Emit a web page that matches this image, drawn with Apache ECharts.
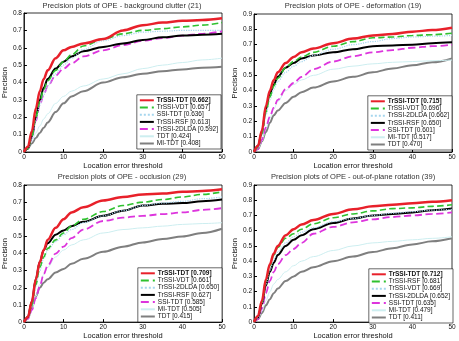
<!DOCTYPE html>
<html>
<head>
<meta charset="utf-8">
<script src="https://cdn.jsdelivr.net/npm/echarts@6/dist/echarts.min.js"></script>
<style>
  html, body { margin: 0; padding: 0; background: #fff; }
  #chart { width: 459px; height: 341px; }
</style>
</head>
<body>
<div id="chart"></div>
<script>
const thresholds = [0, 1, 2, 3, 4, 5, 6, 8, 10, 12, 15, 20, 25, 30, 35, 40, 45, 50];

// background clutter (21)
const bcTitle = 'Precision plots of OPE - background clutter (21)';
const bcNames = ['TrSSI-TDT [0.662]', 'TrSSI-VDT [0.657]', 'SSI-TDT [0.636]', 'TrSSI-RSF [0.613]', 'TrSSI-2DLDA [0.592]', 'TDT [0.424]', 'MI-TDT [0.408]'];
const bcValues = [
  [0, 0.03, 0.12, 0.25, 0.35, 0.42, 0.47, 0.54, 0.585, 0.605, 0.625, 0.65, 0.70, 0.73, 0.745, 0.755, 0.76, 0.77],
  [0, 0.02, 0.09, 0.20, 0.29, 0.36, 0.41, 0.47, 0.52, 0.56, 0.61, 0.65, 0.68, 0.70, 0.71, 0.72, 0.73, 0.745],
  [0, 0.02, 0.08, 0.18, 0.27, 0.33, 0.38, 0.45, 0.50, 0.54, 0.59, 0.64, 0.67, 0.69, 0.695, 0.70, 0.70, 0.70],
  [0, 0.02, 0.09, 0.20, 0.30, 0.37, 0.42, 0.48, 0.52, 0.55, 0.58, 0.605, 0.625, 0.645, 0.66, 0.67, 0.675, 0.68],
  [0, 0.02, 0.08, 0.18, 0.27, 0.33, 0.38, 0.44, 0.48, 0.51, 0.55, 0.585, 0.615, 0.64, 0.655, 0.67, 0.68, 0.695],
  [0, 0.02, 0.06, 0.11, 0.15, 0.19, 0.22, 0.28, 0.32, 0.35, 0.38, 0.42, 0.45, 0.48, 0.50, 0.515, 0.53, 0.54],
  [0, 0.02, 0.05, 0.08, 0.11, 0.14, 0.17, 0.23, 0.28, 0.32, 0.35, 0.40, 0.43, 0.45, 0.465, 0.475, 0.485, 0.49]
];

// deformation (19)
const dfTitle = 'Precision plots of OPE - deformation (19)';
const dfNames = ['TrSSI-TDT [0.715]', 'TrSSI-VDT [0.696]', 'TrSSI-2DLDA [0.662]', 'TrSSI-RSF [0.650]', 'SSI-TDT [0.601]', 'MI-TDT [0.517]', 'TDT [0.470]'];
const dfValues = [
  [0, 0.04, 0.14, 0.30, 0.40, 0.47, 0.52, 0.58, 0.62, 0.65, 0.675, 0.71, 0.74, 0.76, 0.77, 0.785, 0.795, 0.81],
  [0, 0.03, 0.12, 0.26, 0.36, 0.43, 0.48, 0.55, 0.59, 0.62, 0.65, 0.69, 0.72, 0.745, 0.75, 0.76, 0.765, 0.775],
  [0, 0.03, 0.11, 0.24, 0.34, 0.41, 0.46, 0.52, 0.56, 0.59, 0.63, 0.67, 0.70, 0.72, 0.74, 0.75, 0.755, 0.76],
  [0, 0.04, 0.13, 0.28, 0.38, 0.44, 0.49, 0.55, 0.58, 0.61, 0.63, 0.65, 0.67, 0.69, 0.695, 0.70, 0.71, 0.715],
  [0, 0.02, 0.08, 0.16, 0.23, 0.29, 0.34, 0.41, 0.45, 0.49, 0.54, 0.59, 0.625, 0.65, 0.665, 0.68, 0.69, 0.70],
  [0, 0.02, 0.07, 0.15, 0.22, 0.28, 0.33, 0.40, 0.44, 0.47, 0.50, 0.54, 0.56, 0.575, 0.585, 0.59, 0.595, 0.60],
  [0, 0.02, 0.07, 0.13, 0.19, 0.24, 0.27, 0.32, 0.36, 0.39, 0.42, 0.46, 0.49, 0.52, 0.545, 0.565, 0.585, 0.61]
];

// occlusion (29)
const ocTitle = 'Precision plots of OPE - occlusion (29)';
const ocNames = ['TrSSI-TDT [0.709]', 'TrSSI-VDT [0.661]', 'TrSSI-2DLDA [0.650]', 'TrSSI-RSF [0.627]', 'SSI-TDT [0.585]', 'MI-TDT [0.505]', 'TDT [0.415]'];
const ocValues = [
  [0, 0.03, 0.12, 0.25, 0.35, 0.42, 0.48, 0.55, 0.60, 0.64, 0.67, 0.71, 0.73, 0.745, 0.75, 0.76, 0.765, 0.775],
  [0, 0.03, 0.10, 0.22, 0.32, 0.38, 0.43, 0.48, 0.52, 0.56, 0.60, 0.645, 0.68, 0.70, 0.715, 0.73, 0.745, 0.76],
  [0, 0.03, 0.10, 0.21, 0.30, 0.37, 0.42, 0.47, 0.51, 0.54, 0.58, 0.62, 0.65, 0.68, 0.695, 0.705, 0.72, 0.73],
  [0, 0.03, 0.12, 0.25, 0.35, 0.42, 0.46, 0.51, 0.535, 0.56, 0.585, 0.62, 0.65, 0.68, 0.69, 0.695, 0.705, 0.715],
  [0, 0.02, 0.07, 0.14, 0.21, 0.28, 0.33, 0.40, 0.44, 0.49, 0.54, 0.59, 0.61, 0.62, 0.63, 0.64, 0.655, 0.665],
  [0, 0.02, 0.07, 0.15, 0.22, 0.28, 0.32, 0.38, 0.42, 0.45, 0.48, 0.52, 0.54, 0.55, 0.56, 0.57, 0.575, 0.58],
  [0, 0.02, 0.08, 0.15, 0.20, 0.23, 0.25, 0.29, 0.31, 0.34, 0.37, 0.41, 0.44, 0.465, 0.485, 0.50, 0.52, 0.545]
];

// out-of-plane rotation (39)
const opTitle = 'Precision plots of OPE - out-of-plane rotation (39)';
const opNames = ['TrSSI-TDT [0.712]', 'TrSSI-RSF [0.681]', 'TrSSI-VDT [0.669]', 'TrSSI-2DLDA [0.652]', 'SSI-TDT [0.635]', 'MI-TDT [0.479]', 'TDT [0.411]'];
const opValues = [
  [0, 0.04, 0.14, 0.28, 0.38, 0.45, 0.50, 0.57, 0.61, 0.64, 0.67, 0.71, 0.74, 0.76, 0.77, 0.78, 0.79, 0.80],
  [0, 0.04, 0.13, 0.27, 0.37, 0.44, 0.49, 0.55, 0.58, 0.61, 0.645, 0.685, 0.71, 0.73, 0.745, 0.75, 0.76, 0.77],
  [0, 0.03, 0.12, 0.25, 0.34, 0.41, 0.46, 0.52, 0.56, 0.59, 0.62, 0.66, 0.68, 0.70, 0.715, 0.725, 0.735, 0.74],
  [0, 0.03, 0.12, 0.24, 0.33, 0.39, 0.44, 0.50, 0.54, 0.57, 0.61, 0.65, 0.68, 0.70, 0.71, 0.72, 0.735, 0.745],
  [0, 0.02, 0.09, 0.19, 0.27, 0.33, 0.38, 0.44, 0.48, 0.52, 0.58, 0.625, 0.655, 0.675, 0.69, 0.70, 0.71, 0.72],
  [0, 0.02, 0.07, 0.14, 0.20, 0.25, 0.28, 0.33, 0.37, 0.40, 0.43, 0.47, 0.50, 0.52, 0.53, 0.54, 0.55, 0.56],
  [0, 0.02, 0.06, 0.11, 0.15, 0.19, 0.22, 0.27, 0.30, 0.33, 0.36, 0.40, 0.43, 0.46, 0.485, 0.51, 0.53, 0.55]
];

// line style by legend rank (same look in all four panels)
const styles = [
  {color: '#e8202a', width: 2.5, type: 'solid'},
  {color: '#2fc12f', width: 1.6, type: 'dashed'},
  {color: '#a6d6ee', width: 1.2, type: 'dotted'},
  {color: '#000000', width: 2, type: 'solid'},
  {color: '#dd35dd', width: 1.8, type: 'dashed'},
  {color: '#cdeef0', width: 1, type: 'solid'},
  {color: '#7f7f7f', width: 2, type: 'solid'}
];

const panels = [
  {title: bcTitle, names: bcNames, values: bcValues, yMax: 0.8, grid: {left: 22, right: 237, top: 13, bottom: 189}, legend: {right: 238, bottom: 192}, titleTop: 2},
  {title: dfTitle, names: dfNames, values: dfValues, yMax: 0.9, grid: {left: 254, right: 7, top: 14, bottom: 189}, legend: {right: 7, bottom: 191}, titleTop: 2},
  {title: ocTitle, names: ocNames, values: ocValues, yMax: 0.8, grid: {left: 22, right: 237, top: 185, bottom: 17}, legend: {right: 237, bottom: 19}, titleTop: 173},
  {title: opTitle, names: opNames, values: opValues, yMax: 0.9, grid: {left: 254, right: 7, top: 185, bottom: 17}, legend: {right: 6, bottom: 18}, titleTop: 173}
];

const font = 'Liberation Sans, Arial, sans-serif';
const chart = echarts.init(document.getElementById('chart'));
const option = {
  animation: false,
  backgroundColor: '#fff',
  title: [], grid: [], xAxis: [], yAxis: [], legend: [], series: []
};

panels.forEach((p, i) => {
  const g = p.grid;
  option.title.push({
    text: p.title,
    left: g.left + (459 - g.left - g.right) / 2,
    textAlign: 'center',
    top: p.titleTop,
    padding: 0,
    textStyle: {fontSize: 7.5, fontWeight: 'normal', color: '#333', fontFamily: font}
  });
  option.grid.push({
    left: g.left, right: g.right, top: g.top, bottom: g.bottom,
    show: true, borderColor: '#000', borderWidth: 0.8, backgroundColor: '#fff'
  });
  option.xAxis.push({
    type: 'value', gridIndex: i, min: 0, max: 50, interval: 10,
    name: 'Location error threshold', nameLocation: 'middle', nameGap: 7,
    nameTextStyle: {fontSize: 7.5, color: '#111', fontFamily: font},
    axisLine: {show: true, lineStyle: {color: '#000', width: 0.8}},
    axisTick: {show: true, inside: true, length: 3, lineStyle: {color: '#000'}},
    axisLabel: {fontSize: 6.5, color: '#111', margin: 2, fontFamily: font},
    splitLine: {show: false}
  });
  option.yAxis.push({
    type: 'value', gridIndex: i, min: 0, max: p.yMax, interval: 0.1,
    name: 'Precision', nameLocation: 'middle', nameGap: 13,
    nameTextStyle: {fontSize: 7.5, color: '#111', fontFamily: font},
    axisLine: {show: true, lineStyle: {color: '#000', width: 0.8}},
    axisTick: {show: true, inside: true, length: 3, lineStyle: {color: '#000'}},
    axisLabel: {fontSize: 6.5, color: '#111', margin: 2, fontFamily: font,
      formatter: v => String(Math.round(v * 10) / 10)},
    splitLine: {show: false}
  });
  option.legend.push({
    orient: 'vertical',
    right: p.legend.right, bottom: p.legend.bottom,
    data: p.names.map((n, k) => k === 0 ? {name: n, textStyle: {fontWeight: 'bold'}} : {name: n}),
    itemWidth: 14, itemHeight: 5, itemGap: 0.2,
    padding: [2, 3, 2, 2],
    backgroundColor: '#fff', borderColor: '#000', borderWidth: 0.6,
    itemStyle: {opacity: 0},
    textStyle: {fontSize: 6.5, lineHeight: 6, color: '#111', fontFamily: font, padding: [0, 0, 0, -2]},
    selectedMode: false
  });
  // draw from last to first so the red curve ends up on top
  for (let k = p.names.length - 1; k >= 0; k--) {
    const s = styles[k];
    option.series.push({
      name: p.names[k], type: 'line',
      xAxisIndex: i, yAxisIndex: i,
      data: thresholds.map((t, j) => [t, p.values[k][j]]),
      smooth: 0.35, smoothMonotone: 'x',
      symbol: 'none',
      lineStyle: {color: s.color, width: s.width, type: s.type},
      itemStyle: {color: s.color},
      z: 10 - k
    });
  }
});

chart.setOption(option);
</script>
</body>
</html>
